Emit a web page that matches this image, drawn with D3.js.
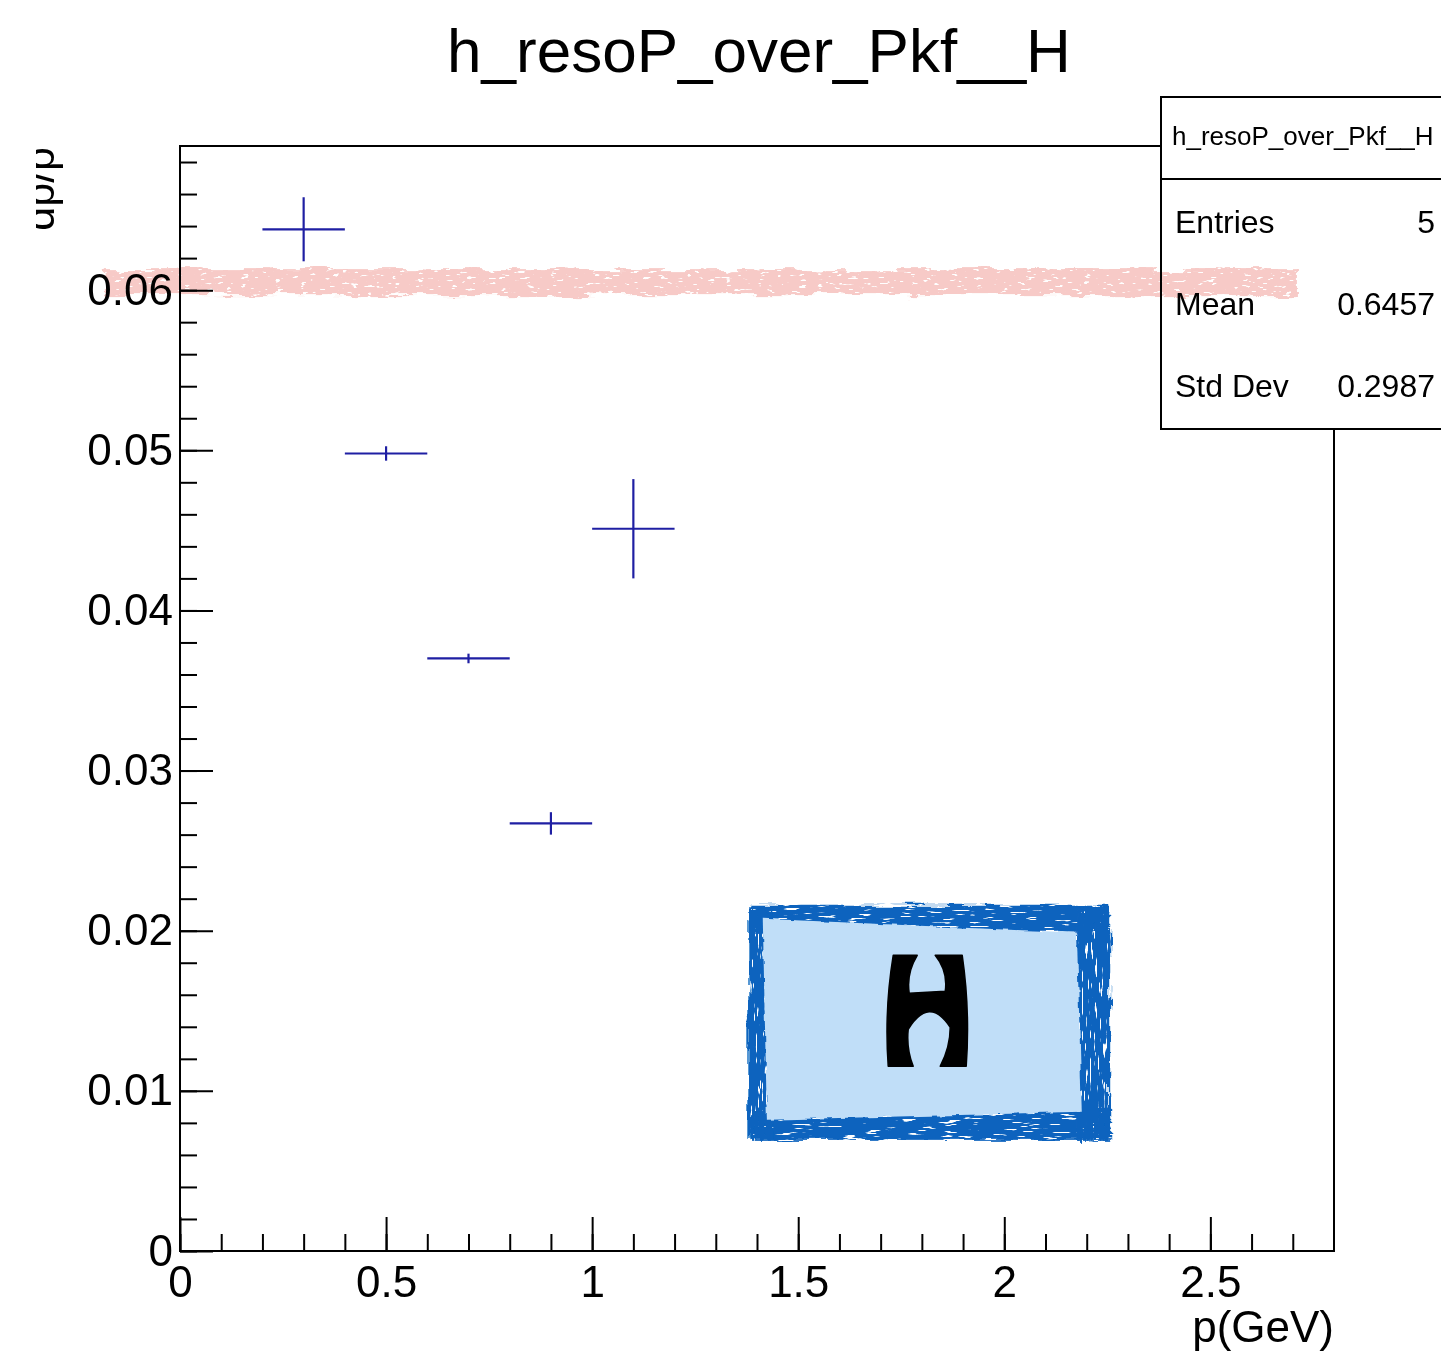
<!DOCTYPE html>
<html>
<head>
<meta charset="utf-8">
<script src="https://cdn.jsdelivr.net/npm/d3@7"></script>
<style>
  body { margin: 0; background: #fff; }
  svg { display: block; }
  text { font-family: "Liberation Sans", Arial, Helvetica, sans-serif; }
</style>
</head>
<body>
<div id="container"></div>
<script>
/** DATA */
const binLow = [0.2, 0.4, 0.6, 0.8, 1.0];
const binHigh = [0.4, 0.6, 0.8, 1.0, 1.2];
const values = [0.0638, 0.0498, 0.0370, 0.0267, 0.0451];
const errors = [0.0020, 0.00045, 0.0003, 0.0007, 0.0031];

const xMajorTicks = [0, 0.5, 1, 1.5, 2, 2.5];
const yMajorTicks = [0, 0.01, 0.02, 0.03, 0.04, 0.05, 0.06];

const statsLabels = ["Entries", "Mean", "Std Dev"];
const statsValues = ["5", "0.6457", "0.2987"];

// hand-drawn annotations (data units)
const pinkLineY = 0.0605;
const pinkLineX = [-0.18, 2.71];
const boxOuterX = [1.379, 2.257];
const boxOuterY = [0.00694, 0.02162];
const boxInnerCorners = [[1.414, 0.02075], [2.176, 0.01988], [2.188, 0.00869], [1.424, 0.00819]];
const glyphCenter = [1.813, 0.0150];

/** CONSTANTS */
const width = 1441, height = 1354;
const margin = { top: 146, right: 107, bottom: 103, left: 180 };
const blue = "#1f1fa3";

const svg = d3.select("#container").append("svg")
  .attr("width", width)
  .attr("height", height);

const x = d3.scaleLinear().domain([0, 2.8]).range([margin.left, width - margin.right]);
const y = d3.scaleLinear().domain([0, 0.069]).range([height - margin.bottom, margin.top]);

/** FILTERS */
const defs = svg.append("defs");
defs.html(`
  <filter id="roughPink" x="-3%" y="-80%" width="106%" height="260%">
    <feTurbulence type="fractalNoise" baseFrequency="0.03 0.12" numOctaves="3" seed="4" result="n"/>
    <feDisplacementMap in="SourceGraphic" in2="n" scale="14" xChannelSelector="R" yChannelSelector="G" result="d"/>
    <feTurbulence type="fractalNoise" baseFrequency="0.12 0.35" numOctaves="2" seed="11" result="n2"/>
    <feColorMatrix in="n2" type="matrix" values="0 0 0 0 0  0 0 0 0 0  0 0 0 0 0  -16 0 0 0 11.6" result="mask"/>
    <feComposite in="d" in2="mask" operator="in"/>
  </filter>
  <filter id="brushH" x="-5%" y="-60%" width="110%" height="220%">
    <feTurbulence type="fractalNoise" baseFrequency="0.03 0.2" numOctaves="3" seed="7" result="n"/>
    <feDisplacementMap in="SourceGraphic" in2="n" scale="10" xChannelSelector="R" yChannelSelector="G" result="d"/>
    <feTurbulence type="fractalNoise" baseFrequency="0.05 0.5" numOctaves="2" seed="2" result="n2"/>
    <feColorMatrix in="n2" type="matrix" values="0 0 0 0 0  0 0 0 0 0  0 0 0 0 0  -15 0 0 0 10.6" result="mask"/>
    <feComposite in="d" in2="mask" operator="in"/>
  </filter>
  <filter id="brushV" x="-60%" y="-5%" width="220%" height="110%">
    <feTurbulence type="fractalNoise" baseFrequency="0.2 0.03" numOctaves="3" seed="9" result="n"/>
    <feDisplacementMap in="SourceGraphic" in2="n" scale="10" xChannelSelector="R" yChannelSelector="G" result="d"/>
    <feTurbulence type="fractalNoise" baseFrequency="0.5 0.05" numOctaves="2" seed="13" result="n2"/>
    <feColorMatrix in="n2" type="matrix" values="0 0 0 0 0  0 0 0 0 0  0 0 0 0 0  -15 0 0 0 10.6" result="mask"/>
    <feComposite in="d" in2="mask" operator="in"/>
  </filter>
  <filter id="softEdge" x="-5%" y="-5%" width="110%" height="110%">
    <feTurbulence type="fractalNoise" baseFrequency="0.08" numOctaves="2" seed="3" result="n"/>
    <feDisplacementMap in="SourceGraphic" in2="n" scale="5" xChannelSelector="R" yChannelSelector="G"/>
  </filter>
  <clipPath id="ylabelClip"><rect x="36" y="0" width="200" height="600"></rect></clipPath>
`);

/** TITLE */
svg.append("text")
  .attr("x", 759).attr("y", 72)
  .attr("text-anchor", "middle")
  .attr("font-size", 62)
  .text("h_resoP_over_Pkf__H");

/** AXES */
function styleAxis(g, fontSize) {
  g.select(".domain").remove();
  g.attr("font-family", null).attr("font-size", fontSize);
  g.selectAll("line").attr("stroke", "#000").attr("stroke-width", 2);
  g.selectAll("text").attr("fill", "#000");
}

svg.append("g")
  .attr("transform", `translate(0,${y(0)})`)
  .call(d3.axisBottom(x).tickValues(d3.range(0, 28).map(i => i / 10)).tickSize(-17).tickSizeOuter(0).tickFormat(""))
  .call(g => styleAxis(g, 43));

svg.append("g")
  .attr("transform", `translate(0,${y(0)})`)
  .call(d3.axisBottom(x).tickValues(xMajorTicks).tickSize(-34).tickSizeOuter(0).tickPadding(15).tickFormat(d3.format("")))
  .call(g => styleAxis(g, 44));

svg.append("g")
  .attr("transform", `translate(${x(0)},0)`)
  .call(d3.axisLeft(y).tickValues(d3.range(0, 35).map(i => i * 0.002)).tickSize(-17).tickSizeOuter(0).tickFormat(""))
  .call(g => styleAxis(g, 43));

svg.append("g")
  .attr("transform", `translate(${x(0)},0)`)
  .call(d3.axisLeft(y).tickValues(yMajorTicks).tickSize(-33).tickSizeOuter(0).tickPadding(7)
    .tickFormat(d => d === 0 ? "0" : d.toFixed(2)))
  .call(g => styleAxis(g, 44));

// frame
svg.append("rect")
  .attr("x", x(0)).attr("y", y(0.069))
  .attr("width", x(2.8) - x(0)).attr("height", y(0) - y(0.069))
  .attr("fill", "none").attr("stroke", "#000").attr("stroke-width", 2);

// axis titles
svg.append("text")
  .attr("x", x(2.8)).attr("y", 1342)
  .attr("text-anchor", "end")
  .attr("font-size", 44)
  .text("p(GeV)");

svg.append("g")
  .attr("clip-path", "url(#ylabelClip)")
  .append("text")
  .attr("transform", `translate(54,${y(0.069) + 1}) rotate(-90)`)
  .attr("text-anchor", "end")
  .attr("font-size", 43)
  .text("dp/p");

/** DATA POINTS */
const pts = binLow.map((lo, i) => ({ lo, hi: binHigh[i], v: values[i], e: errors[i] }));

const marks = svg.append("g").attr("stroke", blue).attr("stroke-width", 2.2);
marks.selectAll(".hbar").data(pts).join("line")
  .attr("class", "hbar")
  .attr("x1", d => x(d.lo)).attr("x2", d => x(d.hi))
  .attr("y1", d => y(d.v)).attr("y2", d => y(d.v));
marks.selectAll(".vbar").data(pts).join("line")
  .attr("class", "vbar")
  .attr("x1", d => x((d.lo + d.hi) / 2)).attr("x2", d => x((d.lo + d.hi) / 2))
  .attr("y1", d => y(d.v - d.e)).attr("y2", d => y(d.v + d.e));

/** STATS BOX */
const sb = svg.append("g");
sb.append("rect")
  .attr("x", 1161).attr("y", 97).attr("width", 300).attr("height", 332)
  .attr("fill", "#fff").attr("stroke", "#000").attr("stroke-width", 2);
sb.append("line")
  .attr("x1", 1161).attr("x2", 1441).attr("y1", 179).attr("y2", 179)
  .attr("stroke", "#000").attr("stroke-width", 2);
sb.append("text")
  .attr("x", 1172).attr("y", 145)
  .attr("font-size", 26)
  .text("h_resoP_over_Pkf__H");
statsLabels.forEach((lab, i) => {
  const by = 233 + i * 82;
  sb.append("text").attr("x", 1175).attr("y", by).attr("font-size", 32).text(lab);
  sb.append("text").attr("x", 1435).attr("y", by).attr("text-anchor", "end").attr("font-size", 32).text(statsValues[i]);
});

/** ANNOTATIONS */
svg.append("rect")
  .attr("x", x(pinkLineX[0])).attr("y", y(pinkLineY) - 13)
  .attr("width", x(pinkLineX[1]) - x(pinkLineX[0])).attr("height", 26)
  .attr("fill", "#f7cac7")
  .style("mix-blend-mode", "multiply")
  .attr("filter", "url(#roughPink)");

const bx0 = x(boxOuterX[0]), bx1 = x(boxOuterX[1]);
const by0 = y(boxOuterY[1]), by1 = y(boxOuterY[0]);
const ann = svg.append("g").attr("fill", "#0a64be");
ann.append("rect").attr("x", bx0 + 2).attr("y", by0).attr("width", bx1 - bx0 - 4).attr("height", 28).attr("filter", "url(#brushH)");
ann.append("rect").attr("x", bx0 + 2).attr("y", by1 - 32).attr("width", bx1 - bx0 - 2).attr("height", 32).attr("filter", "url(#brushH)");
ann.append("rect").attr("x", bx0).attr("y", by0 + 6).attr("width", 24).attr("height", by1 - by0 - 6).attr("filter", "url(#brushV)");
ann.append("rect").attr("x", bx1 - 34).attr("y", by0 + 2).attr("width", 34).attr("height", by1 - by0 - 2).attr("filter", "url(#brushV)");

svg.append("polygon")
  .attr("points", boxInnerCorners.map(c => [x(c[0]), y(c[1])].join(",")).join(" "))
  .attr("fill", "#c0def8")
  .attr("filter", "url(#softEdge)");

svg.append("path")
  .attr("transform", `translate(${x(glyphCenter[0]) - 40},${y(glyphCenter[1]) - 55.5})`)
  .attr("d", "M6,0 L30,0 Q19,18 22,38 L58,36 Q61,16 48,0 L75,0 Q83,55 79,111 L53,111 Q63,92 63,72 Q42,40 21,74 Q19,94 26,111 L1,111 Q-3,55 6,0 Z")
  .attr("fill", "#000")
  .attr("stroke", "#000").attr("stroke-width", 1.5).attr("stroke-linejoin", "round");
</script>
</body>
</html>
